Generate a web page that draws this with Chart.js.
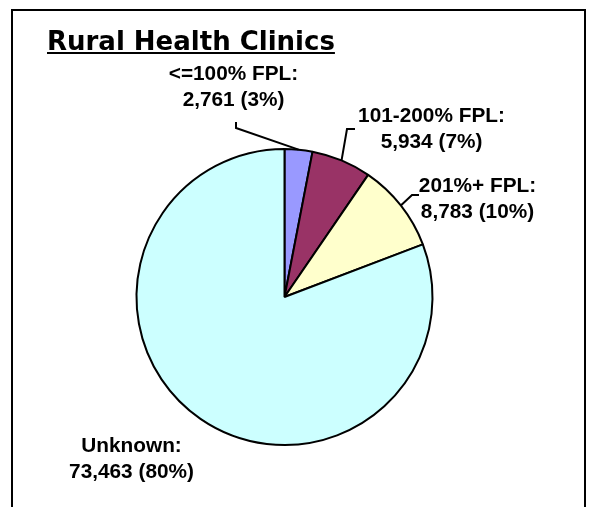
<!DOCTYPE html>
<html lang="en">
<head>
  <meta charset="UTF-8">
  <title>Rural Health Clinics</title>
  <script src="https://cdn.jsdelivr.net/npm/chart.js"></script>
  <style>
    html, body { margin: 0; padding: 0; background: #fff; }
    #wrap { width: 589px; height: 507px; }
  </style>
</head>
<body>
  <div id="wrap"><canvas id="fplChart" width="589" height="507"></canvas></div>

  <script>
    const chartTitle = 'Rural Health Clinics';
    const categories = ['<=100% FPL:', '101-200% FPL:', '201%+ FPL:', 'Unknown:'];
    const patientCounts = [2761, 5934, 8783, 73463];
    const percentLabels = ['3%', '7%', '10%', '80%'];
    const sliceColors = ['#9999FF', '#993366', '#FFFFCC', '#CCFFFF'];

    // where each label sits, relative to the pie centre (text layout only)
    const labelPlaces = [
      { dx: -51, dy: -217, leader: [[-48.5, -175], [-48.5, -169]] },
      { dx: 147, dy: -175, leader: [[70.5, -168], [62.5, -168]] },
      { dx: 193, dy: -105, leader: [[134.5, -102], [127.5, -102]] },
      { dx: -153, dy: 155, leader: null }
    ];

    function fmt(n) {
      return n.toLocaleString('en-US');
    }

    const decorations = {
      id: 'decorations',
      beforeDraw(chart) {
        const ctx = chart.ctx;
        ctx.save();
        ctx.fillStyle = '#fff';
        ctx.fillRect(0, 0, chart.width, chart.height);
        // frame, open at the bottom
        ctx.strokeStyle = '#000';
        ctx.lineWidth = 2;
        ctx.beginPath();
        ctx.moveTo(12, chart.height + 5);
        ctx.lineTo(12, 10);
        ctx.lineTo(585, 10);
        ctx.lineTo(585, chart.height + 5);
        ctx.stroke();
        // underlined title
        ctx.fillStyle = '#000';
        ctx.font = 'bold 26px "DejaVu Sans"';
        ctx.textBaseline = 'alphabetic';
        ctx.textAlign = 'left';
        ctx.fillText(chartTitle, 47, 50);
        const w = ctx.measureText(chartTitle).width;
        ctx.fillRect(47, 52, w, 2);
        ctx.restore();
      },
      afterDatasetsDraw(chart) {
        const ctx = chart.ctx;
        const arcs = chart.getDatasetMeta(0).data;
        ctx.save();
        ctx.fillStyle = '#000';
        ctx.strokeStyle = '#000';
        ctx.lineWidth = 2;
        arcs.forEach((arc, i) => {
          const p = arc.getProps(['x', 'y', 'startAngle', 'endAngle', 'outerRadius'], true);
          const place = labelPlaces[i];
          const tx = p.x + place.dx;
          const ty = p.y + place.dy;
          // labels are a touch wider than plain Arial bold
          ctx.save();
          ctx.translate(tx, ty);
          ctx.scale(1.04, 1);
          ctx.font = 'bold 20px "Liberation Sans", Arial, sans-serif';
          ctx.textAlign = 'center';
          ctx.textBaseline = 'alphabetic';
          ctx.fillText(categories[i], 0, 0);
          ctx.fillText(fmt(patientCounts[i]) + ' (' + percentLabels[i] + ')', 0, 26);
          ctx.restore();
          if (place.leader) {
            const mid = (p.startAngle + p.endAngle) / 2;
            ctx.beginPath();
            ctx.moveTo(p.x + place.leader[0][0], p.y + place.leader[0][1]);
            ctx.lineTo(p.x + place.leader[1][0], p.y + place.leader[1][1]);
            ctx.lineTo(p.x + Math.cos(mid) * p.outerRadius, p.y + Math.sin(mid) * p.outerRadius);
            ctx.stroke();
          }
        });
        ctx.restore();
      }
    };

    new Chart(document.getElementById('fplChart').getContext('2d'), {
      type: 'pie',
      data: {
        labels: categories,
        datasets: [{
          data: patientCounts,
          backgroundColor: sliceColors,
          borderColor: '#000',
          borderWidth: 2
        }]
      },
      options: {
        responsive: false,
        animation: false,
        layout: { padding: { left: 135.5, right: 155.5, top: 148, bottom: 61 } },
        plugins: {
          legend: { display: false },
          tooltip: { enabled: false },
          title: { display: false }
        }
      },
      plugins: [decorations]
    });
  </script>
</body>
</html>
